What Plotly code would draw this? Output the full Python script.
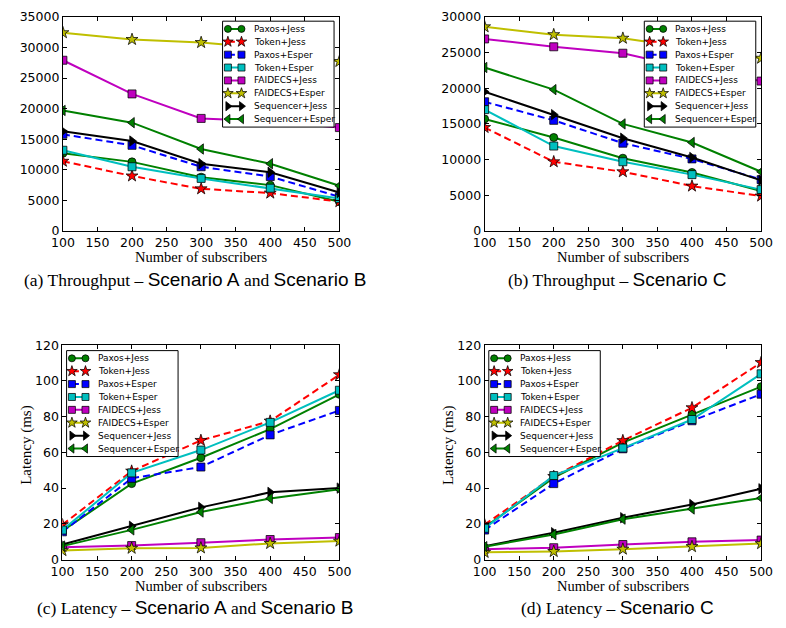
import plotly.graph_objects as go

# ---------------- data ----------------
SUBSCRIBERS = [100, 200, 300, 400, 500]
SERIES = ["Paxos+Jess", "Token+Jess", "Paxos+Esper", "Token+Esper",
          "FAIDECS+Jess", "FAIDECS+Esper", "Sequencer+Jess", "Sequencer+Esper"]

X_TICKS = [100, 150, 200, 250, 300, 350, 400, 450, 500]
Y_TICKS_A = [0, 5000, 10000, 15000, 20000, 25000, 30000, 35000]
Y_TICKS_B = [0, 5000, 10000, 15000, 20000, 25000, 30000]
Y_TICKS_LAT = [0, 20, 40, 60, 80, 100, 120]

# (a) Throughput - Scenario A and Scenario B
THR_AB_PAXOS_JESS = [12700, 11300, 8800, 7500, 4800]
THR_AB_TOKEN_JESS = [11400, 9000, 6900, 6200, 4800]
THR_AB_PAXOS_ESPER = [15800, 14000, 10500, 8900, 5600]
THR_AB_TOKEN_ESPER = [13200, 10500, 8600, 7000, 5300]
THR_AB_FAIDECS_JESS = [27900, 22400, 18400, 17900, 16900]
THR_AB_FAIDECS_ESPER = [32400, 31300, 30800, 29800, 27700]
THR_AB_SEQ_JESS = [16300, 14700, 11000, 9600, 6300]
THR_AB_SEQ_ESPER = [19700, 17700, 13400, 11000, 7400]

# (b) Throughput - Scenario C
THR_C_PAXOS_JESS = [15700, 13100, 10200, 8200, 5600]
THR_C_TOKEN_JESS = [14500, 9700, 8300, 6300, 4900]
THR_C_PAXOS_ESPER = [18100, 15500, 12300, 10100, 7200]
THR_C_TOKEN_ESPER = [17000, 11900, 9700, 7900, 5800]
THR_C_FAIDECS_JESS = [26900, 25800, 24900, 22700, 21000]
THR_C_FAIDECS_ESPER = [28600, 27500, 27000, 25600, 24200]
THR_C_SEQ_JESS = [19500, 16300, 13000, 10300, 7100]
THR_C_SEQ_ESPER = [22900, 19800, 15000, 12400, 8300]

# (c) Latency - Scenario A and Scenario B
LAT_AB_PAXOS_JESS = [16.0, 42.5, 57.0, 73.0, 92.5]
LAT_AB_TOKEN_JESS = [19.5, 49.5, 66.7, 77.5, 103.5]
LAT_AB_PAXOS_ESPER = [15.5, 45.5, 51.8, 69.8, 83.5]
LAT_AB_TOKEN_ESPER = [16.5, 48.5, 61.3, 76.8, 94.8]
LAT_AB_FAIDECS_JESS = [6.8, 7.8, 9.4, 11.2, 12.3]
LAT_AB_FAIDECS_ESPER = [5.0, 6.3, 6.5, 9.0, 10.3]
LAT_AB_SEQ_JESS = [8.4, 18.6, 29.2, 37.6, 40.0]
LAT_AB_SEQ_ESPER = [7.5, 16.6, 26.6, 34.2, 39.3]

# (d) Latency - Scenario C
LAT_C_PAXOS_JESS = [18.0, 45.8, 65.5, 81.3, 96.8]
LAT_C_TOKEN_JESS = [19.5, 46.5, 66.6, 85.0, 110.3]
LAT_C_PAXOS_ESPER = [16.5, 42.5, 62.0, 77.7, 92.6]
LAT_C_TOKEN_ESPER = [17.5, 47.0, 62.4, 78.4, 104.0]
LAT_C_FAIDECS_JESS = [5.8, 6.6, 8.4, 9.9, 10.9]
LAT_C_FAIDECS_ESPER = [4.0, 4.5, 5.8, 7.2, 8.9]
LAT_C_SEQ_JESS = [7.5, 15.0, 23.4, 30.8, 39.6]
LAT_C_SEQ_ESPER = [7.2, 14.0, 22.6, 28.3, 34.4]

PANEL_DATA = [
    [THR_AB_PAXOS_JESS, THR_AB_TOKEN_JESS, THR_AB_PAXOS_ESPER, THR_AB_TOKEN_ESPER,
     THR_AB_FAIDECS_JESS, THR_AB_FAIDECS_ESPER, THR_AB_SEQ_JESS, THR_AB_SEQ_ESPER],
    [THR_C_PAXOS_JESS, THR_C_TOKEN_JESS, THR_C_PAXOS_ESPER, THR_C_TOKEN_ESPER,
     THR_C_FAIDECS_JESS, THR_C_FAIDECS_ESPER, THR_C_SEQ_JESS, THR_C_SEQ_ESPER],
    [LAT_AB_PAXOS_JESS, LAT_AB_TOKEN_JESS, LAT_AB_PAXOS_ESPER, LAT_AB_TOKEN_ESPER,
     LAT_AB_FAIDECS_JESS, LAT_AB_FAIDECS_ESPER, LAT_AB_SEQ_JESS, LAT_AB_SEQ_ESPER],
    [LAT_C_PAXOS_JESS, LAT_C_TOKEN_JESS, LAT_C_PAXOS_ESPER, LAT_C_TOKEN_ESPER,
     LAT_C_FAIDECS_JESS, LAT_C_FAIDECS_ESPER, LAT_C_SEQ_JESS, LAT_C_SEQ_ESPER],
]

CAPTIONS = [
    ("(a) Throughput – ", "Scenario A", " and ", "Scenario B"),
    ("(b) Throughput – ", "Scenario C", "", ""),
    ("(c) Latency – ", "Scenario A", " and ", "Scenario B"),
    ("(d) Latency – ", "Scenario C", "", ""),
]
X_TITLE = "Number of subscribers"
Y_TITLE_LAT = "Latency (ms)"

# ---------------- styles ----------------
STYLE = {
    "Paxos+Jess":      dict(color="#008000", dash="solid", symbol="circle", size=8),
    "Token+Jess":      dict(color="#FF0000", dash="7px,4px", symbol="star", size=9),
    "Paxos+Esper":     dict(color="#0000FF", dash="7px,4px", symbol="square", size=8),
    "Token+Esper":     dict(color="#00BFBF", dash="solid", symbol="square", size=8),
    "FAIDECS+Jess":    dict(color="#BF00BF", dash="solid", symbol="square", size=8),
    "FAIDECS+Esper":   dict(color="#BFBF00", dash="solid", symbol="star", size=9),
    "Sequencer+Jess":  dict(color="#000000", dash="solid", symbol="triangle-right", size=9),
    "Sequencer+Esper": dict(color="#008000", dash="solid", symbol="triangle-left", size=9),
}

FIG_W, FIG_H = 786, 628
# panel pixel boxes: left, right, top, bottom
PANELS = [
    dict(x0=52.5, x1=337.7, y0=9.0, y1=228.5, yr=35000, yt=Y_TICKS_A, legend="right"),
    dict(x0=487.5, x1=772.7, y0=9.0, y1=228.5, yr=30000, yt=Y_TICKS_B, legend="right"),
    dict(x0=52.0, x1=337.7, y0=345.5, y1=565.0, yr=120, yt=Y_TICKS_LAT, legend="left"),
    dict(x0=487.5, x1=772.7, y0=345.5, y1=565.0, yr=120, yt=Y_TICKS_LAT, legend="left"),
]

SERIF = "Liberation Serif"
SANS = "DejaVu Sans"
CAP_SANS = "Liberation Sans"

fig = go.Figure()
layout = dict(
    width=FIG_W, height=FIG_H, margin=dict(l=0, r=0, t=0, b=0),
    paper_bgcolor="white", plot_bgcolor="white", showlegend=False,
    annotations=[],
)


def px_x(v):
    return v / FIG_W


def px_y(v):
    return 1 - v / FIG_H


for k, p in enumerate(PANELS, start=1):
    xa = "x" if k == 1 else f"x{k}"
    ya = "y" if k == 1 else f"y{k}"
    xl = f"x{k + 4}"
    yl = f"y{k + 4}"
    tickfont = dict(family=SANS, size=12.5, color="black")
    common = dict(ticks="inside", ticklen=4, tickwidth=1, tickcolor="black",
                  showline=True, linecolor="black", linewidth=1, mirror="ticks",
                  showgrid=False, zeroline=False, tickfont=tickfont, tickformat="d")
    layout["xaxis" if k == 1 else f"xaxis{k}"] = dict(
        domain=[px_x(p["x0"]), px_x(p["x1"])], range=[100, 500],
        tickvals=X_TICKS, anchor=ya, **common)
    layout["yaxis" if k == 1 else f"yaxis{k}"] = dict(
        domain=[px_y(p["y1"]), px_y(p["y0"])], range=[0, p["yr"]],
        tickvals=p["yt"], anchor=xa, **common)

    # data traces
    for name, vals in zip(SERIES, PANEL_DATA[k - 1]):
        s = STYLE[name]
        fig.add_trace(go.Scatter(
            x=SUBSCRIBERS, y=vals, name=name, mode="lines+markers",
            line=dict(color=s["color"], width=2, dash=s["dash"]),
            marker=dict(symbol=s["symbol"], size=s["size"], color=s["color"],
                        line=dict(color="rgba(0,0,0,0.75)", width=1)),
            xaxis=xa, yaxis=ya, hoverinfo="skip"))

    # legend overlay axes in pixel units
    pw = p["x1"] - p["x0"]
    ph = p["y1"] - p["y0"]
    layout[f"xaxis{k + 4}"] = dict(overlaying=xa, anchor=yl, range=[0, pw], visible=False)
    layout[f"yaxis{k + 4}"] = dict(overlaying=ya, anchor=xl, range=[ph, 0], visible=False)

    bw, bh = 115.0, 108.5
    top = 4.5 if p["legend"] == "right" else 5.5
    left = pw - 5.5 - bw if p["legend"] == "right" else 4.3
    fig.add_trace(go.Scatter(
        x=[left, left + bw, left + bw, left, left],
        y=[top, top, top + bh, top + bh, top],
        mode="lines", fill="toself", fillcolor="white",
        line=dict(color="black", width=1), xaxis=xl, yaxis=yl,
        hoverinfo="skip", showlegend=False))
    row0, step = top + 7.9, 13.2
    for i, name in enumerate(SERIES):
        s = STYLE[name]
        ry = row0 + i * step
        fig.add_trace(go.Scatter(
            x=[left + 5.5, left + 19.5], y=[ry, ry], mode="lines+markers",
            line=dict(color=s["color"], width=2, dash=s["dash"]),
            marker=dict(symbol=s["symbol"], size=s["size"] - 1, color=s["color"],
                        line=dict(color="rgba(0,0,0,0.75)", width=1)),
            xaxis=xl, yaxis=yl, hoverinfo="skip", showlegend=False))
        layout["annotations"].append(dict(
            text=name, x=left + 30, y=ry, xref=xl, yref=yl,
            xanchor="left", yanchor="middle", showarrow=False,
            font=dict(family=SANS, size=9, color="black")))

    # axis titles
    cx = (p["x0"] + p["x1"]) / 2
    layout["annotations"].append(dict(
        text=X_TITLE, x=px_x(cx), y=px_y(p["y1"] + 27), xref="paper", yref="paper",
        xanchor="center", yanchor="middle", showarrow=False,
        font=dict(family=SERIF, size=14.5, color="black")))
    if k >= 3:
        layout["annotations"].append(dict(
            text=Y_TITLE_LAT, x=px_x(p["x0"] - 37), y=px_y(448), xref="paper", yref="paper",
            xanchor="center", yanchor="middle", showarrow=False, textangle=-90,
            font=dict(family=SERIF, size=15, color="black")))

    # caption
    c1, c2, c3, c4 = CAPTIONS[k - 1]
    span = f'<span style="font-family:{CAP_SANS};font-size:19px">'
    txt = c1 + span + c2 + "</span>"
    if c4:
        txt += c3 + span + c4 + "</span>"
    layout["annotations"].append(dict(
        text=txt, x=px_x(cx - 6), y=px_y(p["y1"] + 49.5), xref="paper", yref="paper",
        xanchor="center", yanchor="middle", showarrow=False,
        font=dict(family=SERIF, size=17.5, color="black")))

fig.update_layout(**layout)
fig.write_html(
    "out.html",
    config={"displayModeBar": False, "staticPlot": True},
    post_script="document.body.style.margin='0px';document.body.style.padding='0px';",
)
